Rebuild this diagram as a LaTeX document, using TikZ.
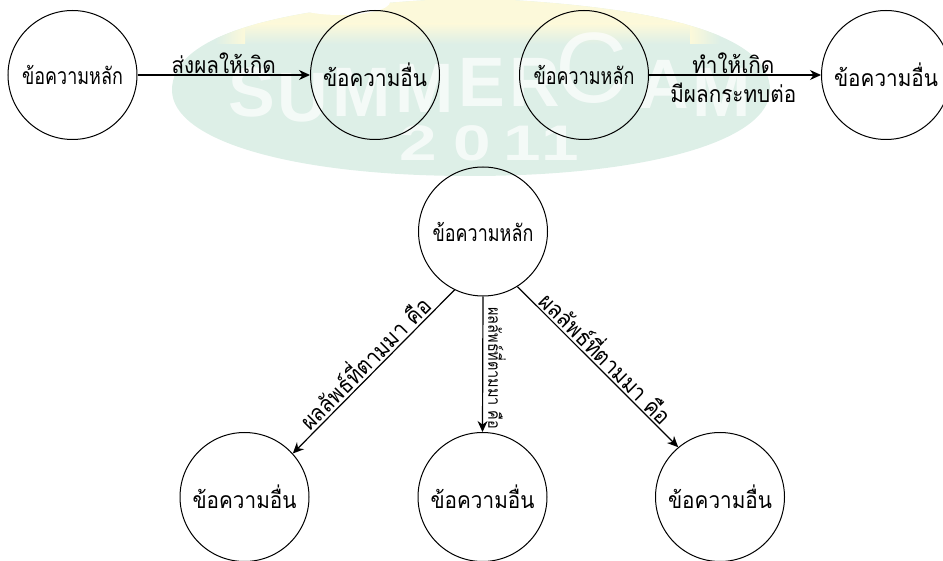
\documentclass[tikz,border=0pt]{standalone}
\usepackage{fontspec}
\usepackage{tikz}
\usetikzlibrary{arrows.meta}
\newfontfamily\thaifont[Script=Thai,FakeStretch=.78]{Loma}
\newfontfamily\thaiwide[Script=Thai,FakeStretch=.9]{Loma}
\newfontfamily\thainarrow[Script=Thai,FakeStretch=.85]{Loma}
\setsansfont{Liberation Sans}
\definecolor{campgreen}{HTML}{DDEFE7}
\definecolor{campyellow}{HTML}{FCF9DA}
\newcommand{\campshape}{(172,90) .. controls (172,40) and (260,6) .. (470,-2) .. controls (680,6) and (770,40) .. (770,90) .. controls (770,140) and (650,176) .. (470,176) .. controls (290,176) and (172,140) .. (172,90)}

\begin{document}
\begin{tikzpicture}
        [
            x=1pt, y=-1pt,
            maintopic/.style={draw, circle, line width=1pt, minimum size=129pt, inner sep=0pt, font=\thaifont\fontsize{23}{26}\selectfont},
            othertopic/.style={maintopic, font=\thaiwide\fontsize{23}{26}\selectfont},
            link/.style={draw, line width=1.2pt, -{Stealth[length=11pt, width=10pt]}},
            linktext/.style={font=\thaiwide\fontsize{23}{26}\selectfont, inner sep=0pt},
            smalltext/.style={font=\thainarrow\fontsize{17}{19}\selectfont, inner sep=0pt},
            campletter/.style={text=white, opacity=.7, font=\sffamily\bfseries\fontsize{70}{74}\selectfont},
            campyear/.style={text=white, opacity=.7, xscale=1.35, font=\sffamily\bfseries\fontsize{50}{54}\selectfont},
        ]
        \useasboundingbox (0,0) rectangle (943,561);
        \clip (0,0) rectangle (943,561);

        % watermark
        \fill[campgreen] \campshape;
        \begin{scope}
            \clip \campshape;
            \fill[campyellow] (245,0) rectangle (690,24);
            \shade[top color=campyellow, bottom color=campgreen] (245,24) rectangle (690,44);
            \shade[left color=campgreen, right color=campyellow] (215,0) rectangle (245,44);
            \shade[left color=campyellow, right color=campgreen] (690,0) rectangle (720,44);
        \end{scope}
        \fill[white] (340,2) ellipse [x radius=50, y radius=13];
        \foreach \letter/\lx/\ly in {S/252/92, U/303/98, M/362/92, M/425/88, E/482/82, R/535/82, A/664/84, M/722/92}
            \node[campletter] at (\lx,\ly) {\letter};
        \node[campletter, font=\sffamily\fontsize{100}{104}\selectfont] at (592,68) {C};
        \foreach \digit/\lx in {2/418, 0/472, 1/522, 1/560}
            \node[campyear] at (\lx,143) {\digit};

        % top row
        \node[maintopic] (mainA) at (72.5,75) {ข้อความหลัก};
        \node[othertopic] (otherA) at (375,75) {ข้อความอื่น};
        \node[maintopic] (mainB) at (584,75) {ข้อความหลัก};
        \node[othertopic] (otherB) at (886,75) {ข้อความอื่น};

        % fan
        \node[maintopic] (mainC) at (483,231.5) {ข้อความหลัก};
        \node[othertopic] (otherC) at (244.5,497) {ข้อความอื่น};
        \node[othertopic] (otherD) at (482.5,497) {ข้อความอื่น};
        \node[othertopic] (otherE) at (720,497) {ข้อความอื่น};

        \draw[link] (mainA) -- (otherA) node[linktext, midway, above=1pt] (causeA) {ส่งผลให้เกิด};
        \draw[link] (mainB) -- (otherB)
            node[linktext, pos=.49, above=1pt] (causeB) {ทำให้เกิด}
            node[linktext, pos=.49, below=7pt] (causeC) {มีผลกระทบต่อ};

        \draw[link] (mainC.-116) -- (otherC.42)
            node[linktext, midway, sloped, above=2pt] (resultA) {ผลลัพธ์ที่ตามมา คือ};
        \draw[link] (mainC.-90) -- (otherD.90)
            node[smalltext, pos=.53, rotate=-90, anchor=south, yshift=5pt] (resultB) {ผลลัพธ์ที่ตามมา คือ};
        \draw[link] (mainC.-58) -- (otherE.130)
            node[linktext, midway, sloped, above=2pt] (resultC) {ผลลัพธ์ที่ตามมา คือ};
    \end{tikzpicture}
\end{document}
